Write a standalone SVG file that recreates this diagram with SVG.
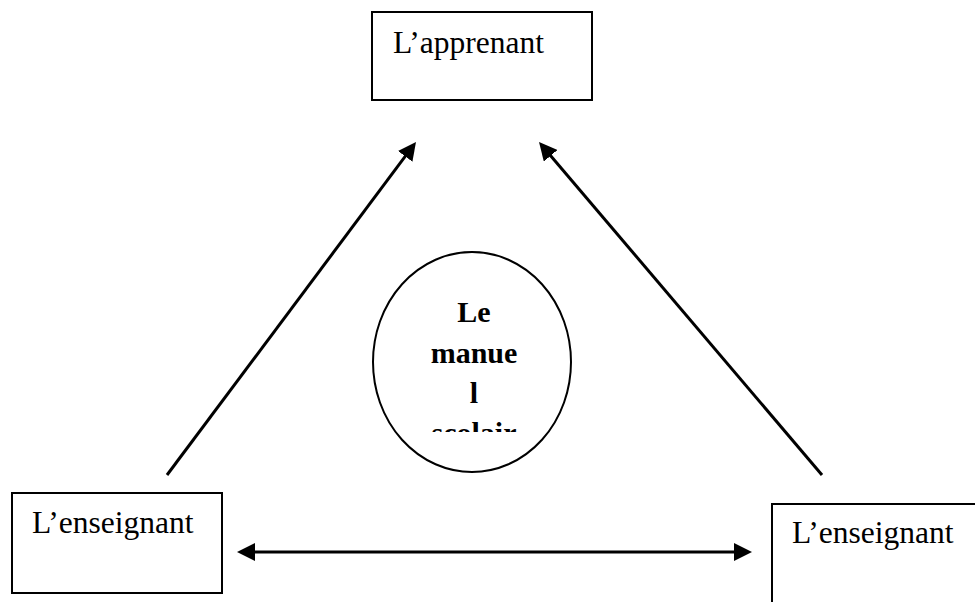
<svg xmlns="http://www.w3.org/2000/svg" width="975" height="602" viewBox="0 0 975 602">
<style>
.box{fill:#fff;stroke:#000;stroke-width:2}
.lbl{font-family:"Liberation Serif","Times New Roman",serif;font-size:31.5px;fill:#000}
.bold{font-family:"Liberation Serif","Times New Roman",serif;font-size:30px;font-weight:bold;fill:#000;text-anchor:middle}
.con{stroke:#000;stroke-width:3;fill:none}
</style>
<defs>
<marker id="ah" viewBox="0 0 18 18" refX="4" refY="9" markerWidth="18" markerHeight="18" markerUnits="userSpaceOnUse" orient="auto-start-reverse">
<path d="M0,0 L18,9 L0,18 z" fill="#000"/>
</marker>
<clipPath id="ec"><rect x="360" y="240" width="240" height="192"/></clipPath>
</defs>
<rect width="975" height="602" fill="#fff"/>
<g id="apprenant">
<rect class="box" x="372" y="12" width="220" height="88"/>
<text class="lbl" x="393" y="53">L’apprenant</text>
</g>
<g id="enseignant-left">
<rect class="box" x="12" y="493" width="210" height="100"/>
<text class="lbl" x="32" y="533">L’enseignant</text>
</g>
<g id="enseignant-right">
<rect class="box" x="772" y="504" width="230" height="120"/>
<text class="lbl" x="792" y="543">L’enseignant</text>
</g>
<g id="manuel">
<ellipse cx="472" cy="362" rx="99" ry="110" fill="#fff" stroke="#000" stroke-width="2"/>
<g clip-path="url(#ec)">
<text class="bold" x="474" y="322">Le</text>
<text class="bold" x="474" y="363">manue</text>
<text class="bold" x="474" y="403">l</text>
<text class="bold" x="474" y="443">scolair</text>
</g>
</g>
<g id="connectors">
<line class="con" x1="167" y1="475" x2="407.6" y2="153.2" marker-end="url(#ah)"/>
<line class="con" x1="822" y1="475" x2="548.1" y2="152.7" marker-end="url(#ah)"/>
<line class="con" x1="251" y1="552" x2="738" y2="552" marker-start="url(#ah)" marker-end="url(#ah)"/>
</g>
</svg>
